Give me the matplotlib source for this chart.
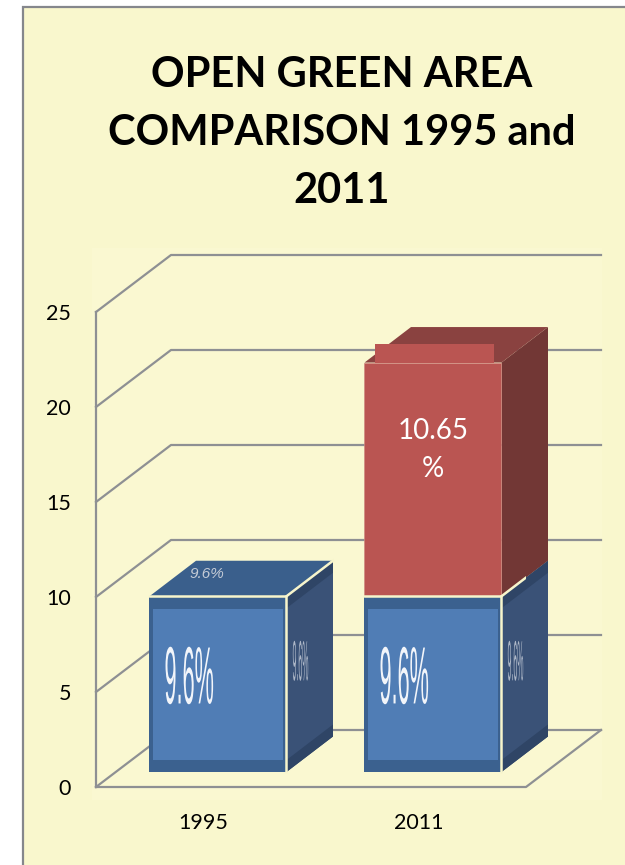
import matplotlib
matplotlib.use("Agg")
import matplotlib.pyplot as plt
from matplotlib.patches import Polygon, Rectangle
from matplotlib.patheffects import AbstractPathEffect
from matplotlib.transforms import Affine2D

years = ["1995", "2011"]
blue_values = [9.25, 9.25]
red_values = [0, 12.3]
y_ticks = [0, 5, 10, 15, 20, 25]
title = "OPEN GREEN AREA\nCOMPARISON 1995 and\n2011"
blue_label = "9.6%"
red_label = "10.65\n%"

W, H = 625, 865
PANEL = "#F9F7CD"; GRID = "#8E9093"; CREAM = "#F7F5CC"
FACE = "#507DB5"; BAND = "#3B618F"; SIDE = "#3A5277"; SIDE_D = "#2F4566"; TOP = "#3A5F8C"
RED = "#BA5552"; RED_S = "#723735"; RED_T = "#8A4240"
FONT = "Lato"

class Squeeze(AbstractPathEffect):
    """Draws real text condensed/stretched about its anchor."""
    def __init__(self, sx=1, sy=1, anchor=(0, 0)):
        super().__init__()
        self.sx, self.sy = sx, sy; self.anchor = anchor
    def draw_path(self, renderer, gc, tpath, affine, rgbFace=None):
        a, b = self.anchor
        t = Affine2D().translate(-a, -b).scale(self.sx, self.sy).translate(a, b)
        renderer.draw_path(gc, tpath, affine + t, rgbFace)

fig = plt.figure(figsize=(W / 100, H / 100), dpi=100, facecolor="white")
fig.add_artist(Rectangle((23 / W, -0.01), 1, 1 - 7.5 / H + 0.01, transform=fig.transFigure,
                         fc=PANEL, ec="#85878C", lw=1.6, zorder=-2))
fig.add_artist(Rectangle((92 / W, 1 - 800 / H), 510 / W, 552 / H, transform=fig.transFigure,
                         fc="#FAF8D1", ec="none", zorder=-1))
fig.text(342 / W, 1 - 133 / H, title, ha="center", va="center", fontsize=30, fontweight="bold",
         family=FONT, color="black", linespacing=1.65)

ax = fig.add_axes([96 / W, 1 - 787 / H, 430 / W, 475 / H])
ax.patch.set_alpha(0)
ax.set_xlim(0, 2); ax.set_ylim(0, 25)
for s in ax.spines.values():
    s.set_visible(False)
ax.set_xticks([0.5, 1.5], years)
ax.set_yticks(y_ticks)
ax.tick_params(length=0, labelsize=15.5, labelfontfamily=FONT, colors="black")
ax.tick_params(axis="y", pad=18)
ax.tick_params(axis="x", pad=19)

px = 1 / 215; py = 1 / 19           # data units per pixel
DX, DY = 75 * px, 57 * py           # wall depth
lw = 1.6
ax.plot([0, 0], [0, 25], color=GRID, lw=lw, clip_on=False, zorder=1)
ax.plot([0, 2, 2 + DX], [0, 0, DY], color=GRID, lw=lw, clip_on=False, zorder=1)
for v in y_ticks:
    ax.plot([0, DX, 2 + DX], [v, v + DY, v + DY], color=GRID, lw=lw, clip_on=False, zorder=1)

# bar geometry
bw = 137 * px; off_x = 14.5 * px; base = 15 * py; bx, by = 46.5 * px, 35.5 * py
def poly(pts, c, z=3):
    ax.add_patch(Polygon(pts, closed=True, fc=c, ec="none", clip_on=False, zorder=z))

for i, (b, r) in enumerate(zip(blue_values, red_values)):
    cx = 0.5 + i + off_x
    l, rt = cx - bw / 2, cx + bw / 2
    y0, y1 = base, base + b
    # right side
    poly([(rt, y0), (rt + bx, y0 + by), (rt + bx, y1 + by), (rt, y1)], SIDE)
    poly([(rt, y0), (rt + bx, y0 + by), (rt + bx, y0 + by + 12 * py), (rt, y0 + 12 * py)], SIDE_D, z=3.1)
    poly([(rt, y1), (rt + bx, y1 + by), (rt + bx, y1 + by - 12 * py), (rt, y1 - 12 * py)], SIDE_D, z=3.1)
    # top
    if r == 0:
        poly([(l, y1), (rt, y1), (rt + bx, y1 + by), (l + bx, y1 + by)], TOP)
    # front
    ax.bar(cx, b, bw, bottom=y0, color=BAND, zorder=4)
    ax.bar(cx, b - 25 * py, bw - 7 * px, bottom=y0 + 12 * py, color=FACE, zorder=4.1)
    ax.plot([l, rt, rt], [y1, y1, y0], color=CREAM, lw=1.8, zorder=5, solid_capstyle="round")
    ax.plot([rt, rt + bx], [y1, y1 + by], color=CREAM, lw=1.8, zorder=5)
    # labels on the blue faces
    xa, ya = ax.transData.transform((l + 15 * px, y0 + 90 * py))
    ax.text(l + 15 * px, y0 + 90 * py, blue_label, color="#F2F5FA", fontsize=30, family="Liberation Sans",
            ha="left", va="center", zorder=6, path_effects=[Squeeze(sx=0.52, sy=1.95, anchor=(xa, ya))])
    xa, ya = ax.transData.transform((rt + 6 * px, y0 + 107 * py))
    ax.text(rt + 6 * px, y0 + 107 * py, blue_label, color="#AEB8C8", fontsize=12, family="Liberation Sans",
            ha="left", va="center", zorder=6, path_effects=[Squeeze(sx=0.42, sy=3.4, anchor=(xa, ya))])
    if r == 0:
        ax.text(l + 40 * px, y1 + 22 * py, blue_label, color="#C4CBD6", fontsize=11, style="italic",
                family="Liberation Sans", ha="left", va="center", zorder=6)
    # red segment
    if r > 0:
        y2 = y1 + r
        poly([(rt, y1), (rt + bx, y1 + by), (rt + bx, y2 + by), (rt, y2)], RED_S)
        poly([(l, y2), (rt, y2), (rt + bx, y2 + by), (l + bx, y2 + by)], RED_T)
        ax.bar(cx, r, bw, bottom=y1, color=RED, edgecolor="#D08A80", lw=0.5, zorder=4.2)
        ax.bar(cx + 2 * px, 19 * py, 119 * px, bottom=y2, color=RED, zorder=4.3)
        ax.text(cx, y1 + 146 * py, red_label, color="white", fontsize=20, family=FONT,
                ha="center", va="center", zorder=6, linespacing=1.55)

fig.savefig("out.png", dpi=100, facecolor="white")
